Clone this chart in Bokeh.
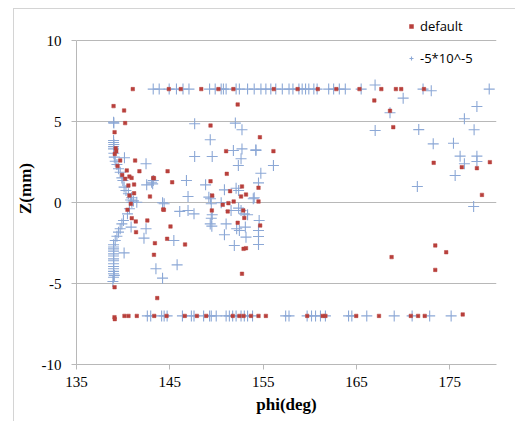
from bokeh.plotting import figure
from bokeh.models import (ColumnDataSource, FixedTicker, Legend, LegendItem, InlineStyleSheet)
from bokeh.embed import file_html
from bokeh.resources import INLINE

# ---------------- data ----------------
x_ticks = [135, 145, 155, 165, 175]
y_ticks = [-10, -5, 0, 5, 10]

# series "default" (red squares)
default_top_phi = [141.03, 144.89, 146.17, 148.37, 150.21, 151.81, 156.14, 158.69, 160.85,
                   162.84, 165.32, 167.66, 169.22, 169.79, 172.23]
default_top_z = [7.0, 7.0, 7.0, 7.0, 7.0, 7.0, 7.0, 7.0, 7.0, 7.0, 7.0, 7.0, 7.0, 7.0, 7.0]

default_bot_phi = [139.07, 139.10, 140.14, 140.57, 141.46, 143.33, 144.65, 146.60, 147.90, 148.90,
                   151.74, 152.45, 152.90, 153.69, 154.50, 155.29, 159.72, 161.38, 161.67, 164.97,
                   167.41, 170.82, 171.60, 172.31, 176.38]
default_bot_z = [-7.08, -7.2, -7.0, -7.0, -7.0, -7.0, -7.0, -7.0, -7.0, -7.0,
                 -7.0, -7.0, -7.0, -7.0, -7.0, -7.0, -7.0, -7.0, -7.0, -7.0,
                 -7.0, -7.0, -7.0, -7.0, -6.91]

default_mid_phi = [138.97, 140.10, 140.21, 139.08, 139.26, 139.10, 139.68, 141.28, 140.39, 141.74,
                   140.67, 140.90, 140.21, 141.17, 140.56, 141.17, 140.67, 142.87, 143.23, 144.76,
                   143.30, 145.25, 149.36, 152.27, 151.03, 151.10, 149.36, 152.73, 154.50, 149.54,
                   151.46, 152.63, 153.16, 154.65, 156.10, 166.91, 168.94, 168.59, 173.27, 176.28,
                   177.90, 179.29, 178.44, 168.76, 173.44, 174.61, 173.44, 154.50, 154.68, 144.29,
                   145.07, 144.71, 143.40, 146.63, 143.30, 149.50, 150.67, 151.28, 151.84, 151.20,
                   152.87, 152.98, 152.27, 152.90, 153.16, 152.73, 143.65, 140.92, 141.35, 142.59,
                   141.38, 139.08, 140.82, 140.46, 139.40, 139.90, 139.20, 144.36]
default_mid_z = [5.95, 5.68, 4.90, 4.34, 3.17, 3.00, 2.59, 2.59, 1.98, 1.93,
                 1.60, 1.52, 1.46, 1.11, 1.05, 0.57, 0.43, 0.37, 1.52, 1.93,
                 1.50, 1.25, 4.75, 6.05, 3.17, 1.77, 1.31, 0.99, 0.91, 0.43,
                 0.70, 0.37, 0.49, 4.03, 3.17, 6.30, 4.65, 5.66, 2.45, 2.18,
                 2.12, 2.49, 0.47, -3.37, -2.65, -3.07, -4.16, 0.06, -1.42, -0.43,
                 -1.48, -2.24, -2.51, -2.59, -3.23, -0.49, -0.14, -0.04, 0.06, -0.55,
                 -0.49, -0.95, -1.25, -2.86, -2.82, -4.40, -5.90, -0.97, -1.17, -1.11,
                 -1.83, -5.23, -0.08, -0.45, 2.25, 1.70, 3.35, -0.45]

# series "-5*10^-5" (blue crosses)
neg_top_phi = [143.22, 143.86, 144.93, 145.71, 146.41, 147.05, 149.26, 149.86, 150.50, 150.74,
               151.03, 152.10, 152.45, 153.33, 154.04, 154.76, 155.29, 155.82, 156.35, 157.05,
               157.77, 158.19, 158.83, 159.18, 159.54, 159.89, 160.43, 160.78, 162.02, 162.55,
               163.16, 163.80, 165.50, 172.13, 179.22, 166.99, 173.01]
neg_top_z = [7.0, 7.0, 7.0, 7.0, 7.0, 7.0, 7.0, 7.0, 7.0, 7.0,
             7.0, 7.0, 7.0, 7.0, 7.0, 7.0, 7.0, 7.0, 7.0, 7.0,
             7.0, 7.0, 7.0, 7.0, 7.0, 7.0, 7.0, 7.0, 7.0, 7.0,
             7.0, 7.0, 7.0, 7.0, 7.0, 7.25, 6.9]

neg_bot_phi = [142.59, 142.95, 144.12, 144.39, 144.71, 146.35, 147.31, 147.59, 148.62, 149.26,
               149.44, 149.97, 151.03, 151.38, 151.73, 152.10, 152.63, 152.98, 153.33, 153.86,
               157.41, 157.77, 159.71, 160.18, 160.61, 161.14, 161.67, 164.15, 164.50, 166.10,
               169.04, 170.96, 172.84, 175.14]
neg_bot_z = [-7.0, -7.0, -7.0, -7.0, -7.0, -7.0, -7.0, -7.0, -7.0, -7.0,
             -7.0, -7.0, -7.0, -7.0, -7.0, -7.0, -7.0, -7.0, -7.0, -7.0,
             -7.0, -7.0, -7.0, -7.0, -7.0, -7.0, -7.0, -7.0, -7.0, -7.0,
             -7.0, -7.0, -7.0, -7.0]

neg_mid_phi = [170.00, 168.59, 177.90, 176.56, 177.60, 167.00, 171.67, 173.22, 175.39, 176.10,
               176.56, 177.90, 177.90, 175.57, 171.52, 177.55,
               154.22, 156.10, 154.75, 154.50, 153.94, 154.57, 154.50, 154.50, 154.50,
               147.66, 149.33, 147.66, 149.54, 152.02, 152.73, 151.81, 152.73, 154.22, 152.63,
               152.34, 146.78, 148.83, 150.85, 152.10, 152.37, 146.95, 149.18, 154.04, 143.05,
               142.45, 142.52, 143.16, 143.23,
               144.22, 146.06, 146.95, 147.59, 149.36, 149.44, 149.54, 149.44, 149.33, 149.50,
               150.50, 151.56, 152.37, 152.63, 152.98, 153.33, 151.03, 150.85, 152.16, 152.45,
               153.09, 153.16, 151.91, 145.43, 143.51, 145.78, 144.22, 144.39,
               140.85, 142.45, 142.23, 140.10, 141.46,
               138.97, 139.00, 138.97, 138.97, 139.00, 138.97, 138.97, 139.00, 139.05, 139.15,
               139.33, 139.50, 139.68, 139.86, 139.97, 140.10, 140.30, 140.56, 140.90, 140.14,
               140.80, 141.10, 140.93, 140.67, 140.46, 140.03, 139.86, 139.68, 139.50, 139.33,
               139.15, 138.97, 138.97, 138.97, 138.97, 138.97, 138.97, 138.97, 138.97, 138.97,
               138.97, 138.97, 138.97, 138.97, 139.05, 138.97, 138.90]
neg_mid_z = [6.44, 5.54, 5.93, 5.17, 4.49, 4.44, 4.50, 3.62, 3.66, 2.86,
             2.39, 2.86, 2.53, 1.67, 0.99, -0.25,
             3.25, 2.28, 1.81, 1.21, 0.23, -1.11, -1.73, -2.10, -2.59,
             4.86, 3.87, 2.84, 2.84, 4.90, 4.49, 3.21, 3.31, 3.21, 2.70,
             2.28, 1.36, 1.09, 0.78, 0.88, 0.74, 0.37, 0.33, 0.29, 1.25,
             2.39, 1.09, 1.15, 1.36,
             -0.02, -0.55, -0.49, -0.70, 0.23, -0.08, -0.76, -0.97, -1.32, -1.46,
             -0.02, -0.49, -0.35, -0.49, -0.70, -0.76, -1.32, -1.99, -1.62, -1.73,
             -1.52, -2.14, -2.65, -2.35, -4.09, -3.85, -4.67, -0.08,
             -1.52, -1.62, -2.20, -3.11, 0.02,
             4.96, 4.90, 3.83, 3.70, 3.58, 3.45, 3.31, 3.04, 2.80, 2.55,
             2.35, 2.08, 1.87, 1.52, 1.36, 0.95, 0.74, 0.54, 0.29, 2.76,
             0.15, 0.10, 0.02, -0.39, -0.70, -1.11, -1.32, -1.62, -1.83, -2.08,
             -2.35, -2.61, -2.75, -2.86, -3.00, -3.17, -3.30, -3.48, -3.60, -3.78,
             -3.95, -4.09, -4.25, -4.40, -4.50, -4.61, -4.88]

default_phi = default_top_phi + default_bot_phi + default_mid_phi
default_z = default_top_z + default_bot_z + default_mid_z
neg_phi = neg_top_phi + neg_bot_phi + neg_mid_phi
neg_z = neg_top_z + neg_bot_z + neg_mid_z

# ---------------- figure ----------------
# frame extends a little above z=10 so the legend (drawn above the top gridline) is not clipped;
# the axis line is bounded to [-10, 10].
Y_TOP = 10 + 28 / 16.2
p = figure(width=515, height=421, output_backend="svg", toolbar_location=None,
           x_range=(135, 180), y_range=(-10, Y_TOP),
           min_border_left=76, min_border_right=19, min_border_top=12, min_border_bottom=57)
p.frame_width = 420
p.frame_height = 352
p.outline_line_color = None
p.background_fill_color = "white"
p.border_fill_color = "white"
p.stylesheets = [InlineStyleSheet(css=""":host::after {
  content: ""; position: absolute; left: 13px; top: 8px; right: 0px; bottom: 0px;
  border-left: 1px solid #d4d4d4; border-top: 1px solid #d4d4d4; pointer-events: none;
}""")]

src_def = ColumnDataSource(dict(x=default_phi, y=default_z))
src_neg = ColumnDataSource(dict(x=neg_phi, y=neg_z))

r_neg = p.scatter("x", "y", source=src_neg, marker="cross", size=11,
                  line_color="#8CA8D6", line_width=1.1)
r_def = p.scatter("x", "y", source=src_def, marker="square", size=3.5,
                  fill_color="#B8403C", line_color="#B8403C", line_width=0.5)

GRID = "#b8b8b8"
p.xgrid.visible = False
p.ygrid.ticker = FixedTicker(ticks=y_ticks)
p.ygrid.grid_line_color = GRID
p.ygrid.grid_line_width = 1

for ax in (p.xaxis[0], p.yaxis[0]):
    ax.axis_line_color = GRID
    ax.major_tick_line_color = GRID
    ax.major_tick_out = 5
    ax.major_tick_in = 0
    ax.minor_tick_line_color = None
    ax.major_label_text_font = "Liberation Serif"
    ax.major_label_text_font_size = "15px"
    ax.major_label_text_color = "black"
    ax.axis_label_text_font = "Liberation Serif"
    ax.axis_label_text_font_style = "bold"
    ax.axis_label_text_font_size = "17px"
    ax.axis_label_text_color = "black"

p.xaxis[0].ticker = FixedTicker(ticks=x_ticks)
p.yaxis[0].ticker = FixedTicker(ticks=y_ticks)
p.yaxis[0].bounds = (-10, 10)
p.yaxis[0].major_label_overrides = {-10: "-10", -5: "-5", 0: "0", 5: "5", 10: "10"}
p.xaxis[0].axis_label = "phi(deg)"
p.yaxis[0].axis_label = "Z(mm)"
p.xaxis[0].major_label_standoff = 7
p.yaxis[0].major_label_standoff = 10
p.xaxis[0].axis_label_standoff = 5
p.yaxis[0].axis_label_standoff = 4

legend = Legend(items=[LegendItem(label="default", renderers=[r_def]),
                       LegendItem(label="-5*10^-5", renderers=[r_neg])],
                location=(330, 296), orientation="vertical")
legend.padding = 0
legend.margin = 0
legend.spacing = 12
legend.border_line_color = None
legend.background_fill_alpha = 0
legend.glyph_width = 10
legend.glyph_height = 20
legend.label_height = 20
legend.label_standoff = 4
legend.label_text_font = "Open Sans"
legend.label_text_font_size = "13px"
legend.label_text_color = "black"
p.add_layout(legend)

open("out.html", "w").write(file_html(p, INLINE))
